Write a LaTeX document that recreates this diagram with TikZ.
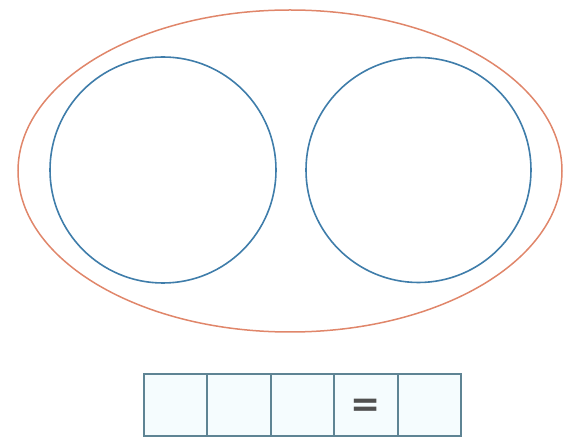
\documentclass[tikz,border=0pt]{standalone}
\usepackage{fontspec}
\newfontfamily\eqfont{DejaVu Sans}
\usetikzlibrary{shapes.geometric,positioning}
\definecolor{outercol}{HTML}{E0866A}
\definecolor{setcol}{HTML}{3F7DAA}
\definecolor{cellcol}{HTML}{5E8494}
\definecolor{eqcol}{HTML}{505050}
\begin{document}
\begin{tikzpicture}[x=1pt,y=-1pt,
  outerline/.style={draw=outercol, line width=1.5pt},
  setline/.style={draw=setcol, line width=1.6pt},
  cell/.style={draw=cellcol, line width=1.8pt, fill=cyan!4, minimum width=63.5pt, minimum height=62pt, inner sep=0pt, outer sep=0pt}]
\useasboundingbox (0,0) rectangle (563,438);
\node[outerline, ellipse, minimum width=544pt, minimum height=322pt, inner sep=0pt] (outer) at (290,171) {};
\node[setline, circle, minimum size=226pt, inner sep=0pt] (left) at (163,170) {};
\node[setline, circle, minimum size=225pt, inner sep=0pt] (right) at (418.5,170) {};
\node[cell] (c1) at (175.5,405) {};
\node[cell, right=0pt of c1] (c2) {};
\node[cell, right=0pt of c2] (c3) {};
\node[cell, right=0pt of c3] (c4) {};
\node[text=eqcol, font=\eqfont\bfseries\fontsize{36}{36}\selectfont, inner sep=0pt] (eq) at ([yshift=-3pt]c4.center) {=};
\node[cell, right=0pt of c4] (c5) {};
\end{tikzpicture}
\end{document}
